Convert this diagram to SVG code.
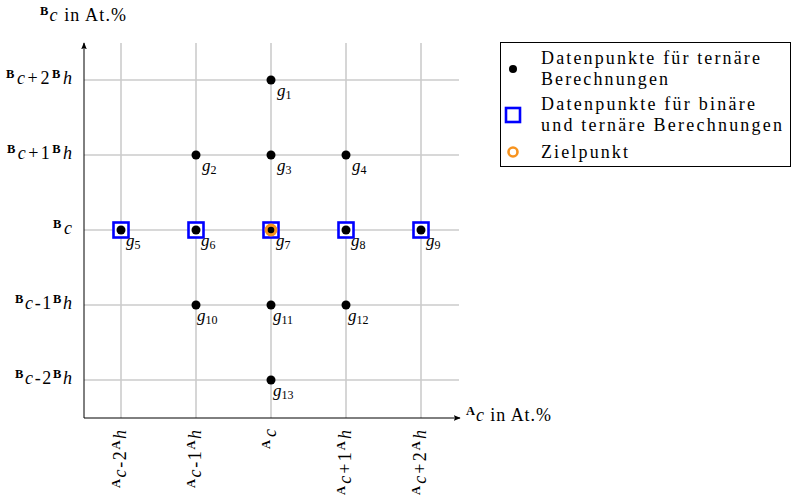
<svg xmlns="http://www.w3.org/2000/svg" width="791" height="501" viewBox="0 0 791 501">
<defs>
<style>
text{font-family:"Liberation Serif","DejaVu Serif",serif;fill:#000}
.t{font-size:18px}
.g{font-size:17px}
.i{font-style:italic}
.sb{font-size:12.5px;font-weight:bold}
.sub{font-size:12px}
.lg{font-size:18px}
.grid{stroke:#cccccc;stroke-width:1.6;fill:none}
.axis{stroke:#000;stroke-width:1;fill:none}
.sq{fill:#fff;stroke:#0000ff;stroke-width:2.6}
.dot{fill:#000}
.ring{fill:#f7931e;stroke:#f7931e;stroke-width:2.4}
</style>
<marker id="arr" viewBox="0 0 10 10" refX="9" refY="5" markerWidth="7" markerHeight="7" markerUnits="userSpaceOnUse" orient="auto">
<path d="M0,1 L10,5 L0,9 L2,5 Z" fill="#000"/>
</marker>
</defs>
<rect width="791" height="501" fill="#fff"/>
<g id="grid">
<path class="grid" d="M121,43V418M196,43V418M271,43V418M346,43V418M421,43V418"/>
<path class="grid" d="M84,80H459M84,155H459M84,230H459M84,305H459M84,380H459"/>
</g>
<g id="axes">
<path class="axis" d="M84,418V43" marker-end="url(#arr)"/>
<path class="axis" d="M84,418H460" marker-end="url(#arr)"/>
<text class="t" x="40" y="21" textLength="86" lengthAdjust="spacing"><tspan class="sb" dy="-6">B</tspan><tspan class="i" dy="6">c</tspan> in At.%</text>
<text class="t" x="466" y="421" textLength="85" lengthAdjust="spacing"><tspan class="sb" dy="-6">A</tspan><tspan class="i" dy="6">c</tspan> in At.%</text>
</g>
<g id="ylabels">
<text class="t" x="72" y="84" text-anchor="end" textLength="66" lengthAdjust="spacing"><tspan class="sb" dy="-6">B</tspan><tspan class="i" dy="6">c</tspan>+2<tspan class="sb" dy="-6">B</tspan><tspan class="i" dy="6">h</tspan></text>
<text class="t" x="72" y="159" text-anchor="end" textLength="65" lengthAdjust="spacing"><tspan class="sb" dy="-6">B</tspan><tspan class="i" dy="6">c</tspan>+1<tspan class="sb" dy="-6">B</tspan><tspan class="i" dy="6">h</tspan></text>
<text class="t" x="72" y="234" text-anchor="end" textLength="19" lengthAdjust="spacing"><tspan class="sb" dy="-6">B</tspan><tspan class="i" dy="6">c</tspan></text>
<text class="t" x="72" y="309" text-anchor="end" textLength="57" lengthAdjust="spacing"><tspan class="sb" dy="-6">B</tspan><tspan class="i" dy="6">c</tspan>-1<tspan class="sb" dy="-6">B</tspan><tspan class="i" dy="6">h</tspan></text>
<text class="t" x="72" y="384" text-anchor="end" textLength="57" lengthAdjust="spacing"><tspan class="sb" dy="-6">B</tspan><tspan class="i" dy="6">c</tspan>-2<tspan class="sb" dy="-6">B</tspan><tspan class="i" dy="6">h</tspan></text>
</g>
<g id="xlabels">
<text class="t" transform="translate(126,430) rotate(-90)" text-anchor="end" textLength="58" lengthAdjust="spacing"><tspan class="sb" dy="-6">A</tspan><tspan class="i" dy="6">c</tspan>-2<tspan class="sb" dy="-6">A</tspan><tspan class="i" dy="6">h</tspan></text>
<text class="t" transform="translate(201,430) rotate(-90)" text-anchor="end" textLength="58" lengthAdjust="spacing"><tspan class="sb" dy="-6">A</tspan><tspan class="i" dy="6">c</tspan>-1<tspan class="sb" dy="-6">A</tspan><tspan class="i" dy="6">h</tspan></text>
<text class="t" transform="translate(276,429) rotate(-90)" text-anchor="end" textLength="20" lengthAdjust="spacing"><tspan class="sb" dy="-6">A</tspan><tspan class="i" dy="6">c</tspan></text>
<text class="t" transform="translate(351,430) rotate(-90)" text-anchor="end" textLength="65" lengthAdjust="spacing"><tspan class="sb" dy="-6">A</tspan><tspan class="i" dy="6">c</tspan>+1<tspan class="sb" dy="-6">A</tspan><tspan class="i" dy="6">h</tspan></text>
<text class="t" transform="translate(426,430) rotate(-90)" text-anchor="end" textLength="65" lengthAdjust="spacing"><tspan class="sb" dy="-6">A</tspan><tspan class="i" dy="6">c</tspan>+2<tspan class="sb" dy="-6">A</tspan><tspan class="i" dy="6">h</tspan></text>
</g>
<g id="g1"><circle class="dot" cx="271" cy="80" r="4.5"/><text class="g" x="277" y="96"><tspan class="i">g</tspan><tspan class="sub" dy="3">1</tspan></text></g>
<g id="g2"><circle class="dot" cx="196" cy="155" r="4.5"/><text class="g" x="202" y="171"><tspan class="i">g</tspan><tspan class="sub" dy="3">2</tspan></text></g>
<g id="g3"><circle class="dot" cx="271" cy="155" r="4.5"/><text class="g" x="277" y="171"><tspan class="i">g</tspan><tspan class="sub" dy="3">3</tspan></text></g>
<g id="g4"><circle class="dot" cx="346" cy="155" r="4.5"/><text class="g" x="352" y="171"><tspan class="i">g</tspan><tspan class="sub" dy="3">4</tspan></text></g>
<g id="g5"><rect class="sq" x="113.5" y="222.5" width="15" height="15"/><circle class="dot" cx="121" cy="230" r="4.5"/><text class="g" x="126" y="246"><tspan class="i">g</tspan><tspan class="sub" dy="3">5</tspan></text></g>
<g id="g6"><rect class="sq" x="188.5" y="222.5" width="15" height="15"/><circle class="dot" cx="196" cy="230" r="4.5"/><text class="g" x="201" y="246"><tspan class="i">g</tspan><tspan class="sub" dy="3">6</tspan></text></g>
<g id="g7"><rect class="sq" x="263.5" y="222.5" width="15" height="15"/><circle class="ring" cx="271" cy="230" r="5.2"/><circle class="dot" cx="271" cy="230" r="3.3"/><text class="g" x="276" y="246"><tspan class="i">g</tspan><tspan class="sub" dy="3">7</tspan></text></g>
<g id="g8"><rect class="sq" x="338.5" y="222.5" width="15" height="15"/><circle class="dot" cx="346" cy="230" r="4.5"/><text class="g" x="351" y="246"><tspan class="i">g</tspan><tspan class="sub" dy="3">8</tspan></text></g>
<g id="g9"><rect class="sq" x="413.5" y="222.5" width="15" height="15"/><circle class="dot" cx="421" cy="230" r="4.5"/><text class="g" x="426" y="246"><tspan class="i">g</tspan><tspan class="sub" dy="3">9</tspan></text></g>
<g id="g10"><circle class="dot" cx="196" cy="305" r="4.5"/><text class="g" x="197" y="321"><tspan class="i">g</tspan><tspan class="sub" dy="3">10</tspan></text></g>
<g id="g11"><circle class="dot" cx="271" cy="305" r="4.5"/><text class="g" x="273" y="321"><tspan class="i">g</tspan><tspan class="sub" dy="3">11</tspan></text></g>
<g id="g12"><circle class="dot" cx="346" cy="305" r="4.5"/><text class="g" x="348" y="321"><tspan class="i">g</tspan><tspan class="sub" dy="3">12</tspan></text></g>
<g id="g13"><circle class="dot" cx="271" cy="380" r="4.5"/><text class="g" x="273" y="396"><tspan class="i">g</tspan><tspan class="sub" dy="3">13</tspan></text></g>
<g id="legend">
<rect x="500.5" y="42.5" width="290" height="124" fill="#fff" stroke="#000" stroke-width="1"/>
<circle class="dot" cx="513" cy="69" r="4"/>
<text class="lg" x="541" y="64" textLength="219" lengthAdjust="spacing">Datenpunkte für ternäre</text>
<text class="lg" x="541" y="85" textLength="127" lengthAdjust="spacing">Berechnungen</text>
<rect x="506" y="108" width="14" height="14" fill="#fff" stroke="#0000ff" stroke-width="2.6"/>
<text class="lg" x="541" y="110" textLength="214" lengthAdjust="spacing">Datenpunkte für binäre</text>
<text class="lg" x="541" y="131" textLength="241" lengthAdjust="spacing">und ternäre Berechnungen</text>
<circle cx="513" cy="152" r="4.5" fill="#fff" stroke="#f7931e" stroke-width="2.6"/>
<text class="lg" x="541" y="158" textLength="87" lengthAdjust="spacing">Zielpunkt</text>
</g>
</svg>
